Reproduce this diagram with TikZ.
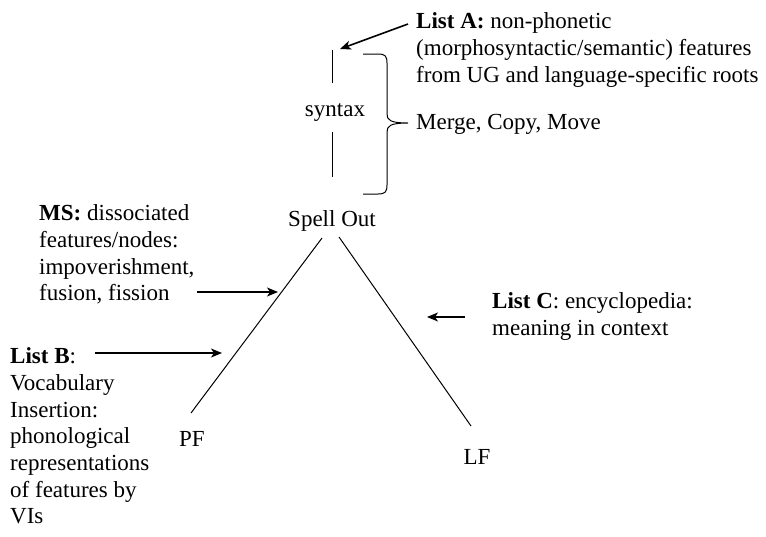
\documentclass[tikz,border=0pt]{standalone}
\usepackage{fontspec}
\setmainfont{Liberation Serif}
\usetikzlibrary{arrows.meta}
\begin{document}
\begin{tikzpicture}[x=1pt,y=-1pt,
  txt/.style={inner sep=0pt, font=\fontsize{23}{26.7}\selectfont},
  para/.style={txt, anchor=north west, align=left},
  leg/.style={line width=1pt},
  arr/.style={line width=1.6pt, -{Stealth[length=11pt,width=9pt,inset=3pt]}}]
\useasboundingbox (0,0) rectangle (766,536);
% texts
\node[para] (listA) at (416,9.8) {\strut\textbf{List A:} non-phonetic\\(morphosyntactic/semantic) features\\from UG and language-specific roots};
\node[txt, anchor=base west] (merge) at (416,129.5) {Merge, Copy, Move};
\node[txt, anchor=base] (syntax) at (335,116.5) {syntax};
\node[txt, anchor=base] (spell) at (332,226.5) {Spell Out};
\node[txt, anchor=base] (pf) at (192,446) {PF};
\node[txt, anchor=base] (lf) at (477,464.5) {LF};
\node[para] (ms) at (39,201.8) {\strut\textbf{MS:} dissociated\\features/nodes:\\impoverishment,\\fusion, fission};
\node[para] (listB) at (10,344.8) {\strut\textbf{List B}:\\Vocabulary\\Insertion:\\phonological\\representations\\of features by\\VIs};
\node[para] (listC) at (492,289.8) {\strut\textbf{List C}: encyclopedia:\\meaning in context};
% coordinates
\coordinate (v1a) at (332,50);  \coordinate (v1b) at (332,83);
\coordinate (v2a) at (332,132); \coordinate (v2b) at (332,177);
\coordinate (lt) at (322,238);  \coordinate (lb) at (191,413);
\coordinate (rt) at (339,237);  \coordinate (rb) at (471,426);
\coordinate (aA) at (408,24);   \coordinate (hA) at (340,49);
\coordinate (aMS) at (197,292); \coordinate (hMS) at (278,292);
\coordinate (aB) at (95,353);   \coordinate (hB) at (222,353);
\coordinate (aC) at (465,317);  \coordinate (hC) at (427,317);
% syntax bars
\draw[leg] (v1a) -- (v1b);
\draw[leg] (v2a) -- (v2b);
% brace
\draw[leg] (363,54) -- (378,54) .. controls (385,54) and (387,56) .. (387,63) -- (387,114)
  .. controls (387,120) and (390,123) .. (408,123)
  .. controls (390,123) and (387,126) .. (387,132) -- (387,185)
  .. controls (387,192) and (385,194) .. (378,194) -- (363,194);
% legs
\draw[leg] (lt) -- (lb);
\draw[leg] (rt) -- (rb);
% arrows
\draw[arr] (aA) -- (hA);
\draw[arr] (aMS) -- (hMS);
\draw[arr] (aB) -- (hB);
\draw[arr] (aC) -- (hC);
\end{tikzpicture}
\end{document}
